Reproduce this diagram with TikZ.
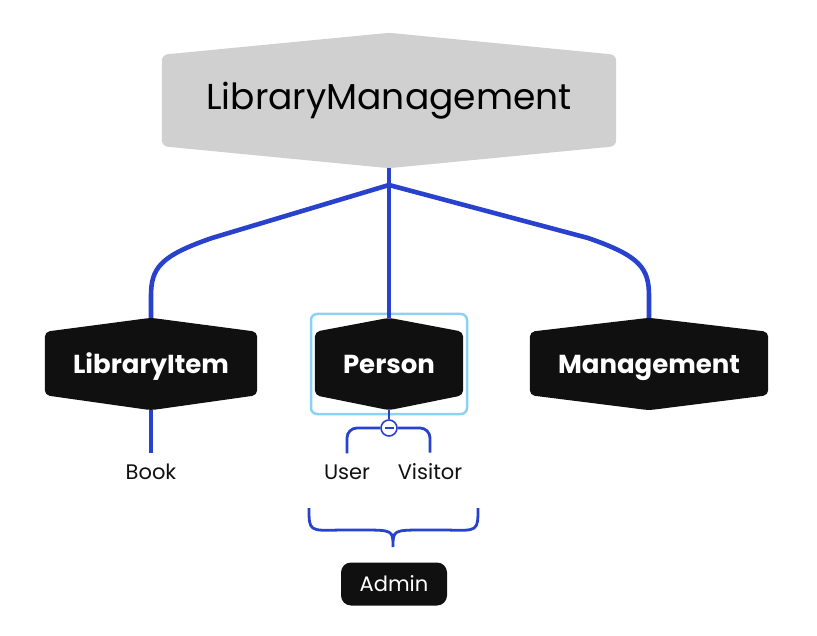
\documentclass[tikz,border=0pt]{standalone}
\usepackage{fontspec}
\setmainfont{Poppins}
\usetikzlibrary{backgrounds}
\definecolor{linkblue}{RGB}{40,66,206}
\definecolor{selblue}{RGB}{140,210,245}
\definecolor{rootgray}{RGB}{208,208,208}
\definecolor{nodeblack}{RGB}{16,16,16}
\begin{document}
\begin{tikzpicture}[x=1pt,y=-1pt,
  link/.style={linkblue, line width=4.6pt},
  thinlink/.style={linkblue, line width=2.8pt},
  topic/.style={inner sep=0pt, minimum height=92pt, text height=19pt, text depth=0pt,
    text=white, font=\fontsize{26}{30}\selectfont\bfseries},
  leaf/.style={inner sep=1pt, font=\fontsize{21}{24}\selectfont, text=nodeblack}]
  \useasboundingbox (0,0) rectangle (817,636);

  % wurzel
  \node[inner sep=0pt, minimum width=454pt, minimum height=134pt,
        font=\fontsize{36}{40}\selectfont] (lm) at (389,101) {LibraryManagement};

  % hlavne temy
  \node[topic, minimum width=212pt] (li) at (151,364) {LibraryItem};
  \node[topic, minimum width=148pt] (pe) at (389,364) {Person};
  \node[topic, minimum width=238pt] (mg) at (649,364) {Management};

  % sestiuholniky
  \begin{scope}[on background layer]
    \fill[rootgray, rounded corners=6pt] ([yshift=1pt]lm.north) -- ([yshift=-21pt]lm.north east)
      -- ([yshift=22pt]lm.south east) -- (lm.south) -- ([yshift=22pt]lm.south west)
      -- ([yshift=-21pt]lm.north west) -- cycle;
    \foreach \n in {li, pe, mg}
      \fill[nodeblack, rounded corners=5pt] (\n.north) -- ([yshift=-14pt]\n.north east)
        -- ([yshift=15pt]\n.south east) -- (\n.south) -- ([yshift=15pt]\n.south west)
        -- ([yshift=-14pt]\n.north west) -- cycle;
  \end{scope}

  % vyber
  \draw[selblue, line width=2.5pt, rounded corners=6pt] (311,314) rectangle (467,414);

  % spojnice
  \coordinate (hub) at (389,185);
  \draw[link] (lm.south) -- (hub);
  \draw[link] (hub) -- (pe.north);
  \draw[link] (hub) -- (212,238) .. controls (160,256) and (151,268) .. (151,296) -- (li.north);
  \draw[link] (hub) -- (588,238) .. controls (640,256) and (649,268) .. (649,296) -- (mg.north);

  % listy
  \node[leaf] (book) at (151,472) {Book};
  \node[leaf] (user) at (347,472) {User};
  \node[leaf] (visitor) at (430,472) {Visitor};
  \draw[thinlink, line width=3.2pt] (li.south) -- ([yshift=10pt]book.north);

  \node[circle, draw=linkblue, line width=1.6pt, fill=white, minimum size=16pt, inner sep=0pt] (fold) at (389,428) {};
  \draw[linkblue, line width=1.6pt] ([xshift=-4.5pt]fold.center) -- ([xshift=4.5pt]fold.center);
  \draw[thinlink] (pe.south) -- (fold.north);
  \draw[thinlink, rounded corners=10pt] (fold.west) -- (347,428) -- ([yshift=10pt]user.north);
  \draw[thinlink, rounded corners=10pt] (fold.east) -- (430,428) -- ([yshift=10pt]visitor.north);

  % zlozena zatvorka
  \node[fill=nodeblack, text=white, rounded corners=10pt, minimum width=106pt, minimum height=43pt,
        inner sep=0pt, font=\fontsize{21}{24}\selectfont] (admin) at (394,584) {Admin};
  \coordinate (tip) at (393,547);
  \draw[thinlink] (309,508) .. controls (309,531) .. (340,530) -- (360,530)
    .. controls (393,530) .. (tip) .. controls (393,530) .. (426,530) -- (447,530)
    .. controls (478,531) .. (478,508);

\end{tikzpicture}
\end{document}
